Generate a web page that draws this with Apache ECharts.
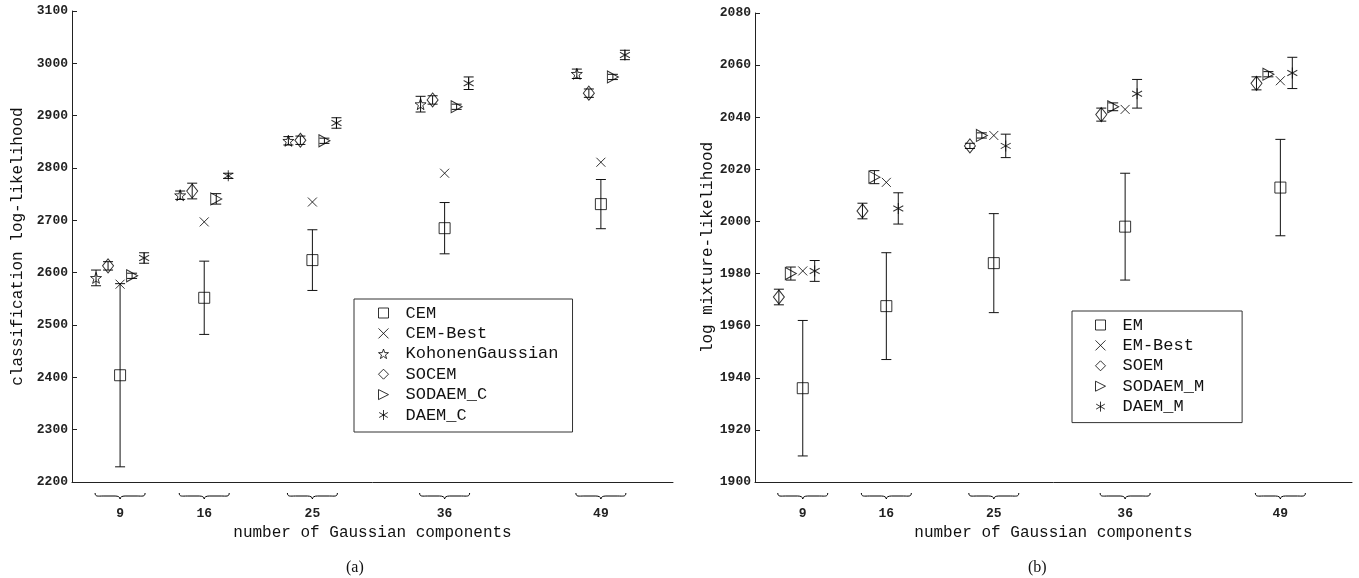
<!DOCTYPE html>
<html><head><meta charset="utf-8">
<script src="https://cdn.jsdelivr.net/npm/echarts@6/dist/echarts.min.js"></script>
<style>html,body{margin:0;padding:0;background:#fff}#c{width:1359px;height:578px}</style>
</head><body><div id="c"></div>
<script>
// shared categories
const groups = [9, 16, 25, 36, 49];
const groupLabels = ['9', '16', '25', '36', '49'];

// (a) classification log-likelihood
const cemMean = [2404, 2552, 2624, 2685, 2731];
const cemErr = [175, 70, 58, 49, 47];
const cemBest = [2578, 2697, 2735, 2790, 2811];
const kohMean = [2590, 2748, 2852, 2922, 2980];
const kohErr = [15, 8, 8, 15, 9];
const socemMean = [2613, 2756, 2853, 2930, 2943];
const socemErr = [8, 15, 8, 8, 8];
const sodaemCMean = [2594, 2741, 2852, 2917, 2974];
const sodaemCErr = [5, 10, 5, 5, 5];
const daemCMean = [2628, 2785, 2886, 2962, 3016];
const daemCErr = [10, 5, 10, 12, 9];

// (b) log mixture-likelihood
const emMean = [1936, 1967.5, 1984, 1998, 2013];
const emErr = [26, 20.5, 19, 20.5, 18.5];
const emBest = [1981, 2015, 2033, 2043, 2054];
const soemMean = [1971, 2004, 2029, 2041, 2053];
const soemErr = [3, 3, 1, 2.5, 2.5];
const sodaemMMean = [1980, 2017, 2033, 2044, 2056.5];
const sodaemMErr = [2.5, 2.5, 1, 1.5, 1];
const daemMMean = [1981, 2005, 2029, 2049, 2057];
const daemMErr = [4, 6, 4.5, 5.5, 6];

const legendA = ['CEM', 'CEM-Best', 'KohonenGaussian', 'SOCEM', 'SODAEM_C', 'DAEM_C'];
const legendB = ['EM', 'EM-Best', 'SOEM', 'SODAEM_M', 'DAEM_M'];

// ---- presentation ----
const MONO = '"Liberation Mono", "DejaVu Sans Mono", monospace';
const SYM = {
  square: 'rect',
  cross: 'path://M0,0L10,10M10,0L0,10',
  star: 'path://M0,-10L2.35,-3.24L9.51,-3.09L3.8,1.24L5.88,8.09L0,4L-5.88,8.09L-3.8,1.24L-9.51,-3.09L-2.35,-3.24Z',
  diamond: 'diamond',
  tri: 'path://M0,0L10,5L0,10Z',
  ast: 'path://M0,-5L0,5M-4.33,-2.5L4.33,2.5M-4.33,2.5L4.33,-2.5'
};
const BRACE = 'M0,0 C0,4 3,3 8,3 L20,3 C23,3 25,4 25,6 C25,4 27,3 30,3 L42,3 C47,3 50,4 50,0';
const Y_MIN = [2200, 1900];

function pts(means, off) { return groups.map((g, i) => [g + off, means[i]]); }
function errPts(means, err, off) { return groups.map((g, i) => [g + off, means[i], err[i]]); }

function scatter(name, idx, means, off, symbol, size) {
  return {
    type: 'scatter', name, xAxisIndex: idx, yAxisIndex: idx,
    data: pts(means, off), symbol, symbolSize: size, z: 3,
    itemStyle: { color: 'rgba(0,0,0,0)', borderColor: '#000', borderWidth: 1 },
    emphasis: { disabled: true }
  };
}
function errItem(params, api) {
  const x = api.value(0), y = api.value(1), e = api.value(2);
  const t = api.coord([x, y + e]), b = api.coord([x, y - e]);
  const w = 5;
  const st = { stroke: '#111', lineWidth: 1 };
  return {
    type: 'group', children: [
      { type: 'line', shape: { x1: t[0], y1: t[1], x2: b[0], y2: b[1] }, style: st },
      { type: 'line', shape: { x1: t[0] - w, y1: t[1], x2: t[0] + w, y2: t[1] }, style: st },
      { type: 'line', shape: { x1: b[0] - w, y1: b[1], x2: b[0] + w, y2: b[1] }, style: st }
    ]
  };
}
function errSeries(name, idx, means, err, off) {
  return {
    type: 'custom', name: 'err ' + name, xAxisIndex: idx, yAxisIndex: idx,
    data: errPts(means, err, off), renderItem: errItem, z: 2, silent: true
  };
}
function braceSeries(idx) {
  return {
    type: 'custom', name: 'brace' + idx, xAxisIndex: idx, yAxisIndex: idx, clip: false, silent: true,
    data: groups.map(g => [g, Y_MIN[idx]]),
    renderItem: (params, api) => {
      const p = api.coord([api.value(0), api.value(1)]);
      return {
        type: 'path',
        shape: { pathData: BRACE, x: p[0] - 25, y: p[1] + 11, width: 50, height: 6 },
        style: { stroke: '#000', fill: 'none', lineWidth: 1 }
      };
    }
  };
}

function xAxis(idx) {
  return {
    type: 'value', gridIndex: idx, min: 5, max: 55,
    name: 'number of Gaussian components', nameLocation: 'middle', nameGap: 43,
    nameTextStyle: { fontFamily: MONO, fontSize: 16, color: '#111' },
    axisLine: { lineStyle: { color: '#222', width: 1 } },
    axisTick: { show: false }, splitLine: { show: false },
    axisLabel: {
      customValues: groups, formatter: v => groupLabels[groups.indexOf(v)],
      margin: 25, fontFamily: MONO, fontSize: 13, fontWeight: 'bold', color: '#222'
    }
  };
}
function yAxis(idx, min, max, interval, name, gap) {
  return {
    type: 'value', gridIndex: idx, min, max, interval,
    name, nameLocation: 'middle', nameGap: gap,
    nameTextStyle: { fontFamily: MONO, fontSize: 16, color: '#111' },
    axisLine: { show: true, lineStyle: { color: '#222', width: 1 } },
    axisTick: { show: true, inside: true, length: 5, lineStyle: { color: '#222' } },
    splitLine: { show: false },
    axisLabel: { margin: 4, fontFamily: MONO, fontSize: 13, fontWeight: 'bold', color: '#222', formatter: v => String(v) }
  };
}
function legend(data, idx, left, top, padding) {
  return {
    data, left, top, orient: 'vertical', padding, itemGap: 2.4,
    itemWidth: 10, itemHeight: 10,
    borderColor: '#333', borderWidth: 1, backgroundColor: '#fff',
    selectedMode: false,
    itemStyle: { color: 'rgba(0,0,0,0)', borderColor: '#000', borderWidth: 1 },
    textStyle: { fontFamily: MONO, fontSize: 17, color: '#111', lineHeight: 18, padding: [0, 0, 0, 12] }
  };
}

const series = [
  // (a)
  errSeries('CEM', 0, cemMean, cemErr, 0),
  errSeries('KohonenGaussian', 0, kohMean, kohErr, -2),
  errSeries('SOCEM', 0, socemMean, socemErr, -1),
  errSeries('SODAEM_C', 0, sodaemCMean, sodaemCErr, 1),
  errSeries('DAEM_C', 0, daemCMean, daemCErr, 2),
  scatter('CEM', 0, cemMean, 0, SYM.square, 11),
  scatter('CEM-Best', 0, cemBest, 0, SYM.cross, 9),
  scatter('KohonenGaussian', 0, kohMean, -2, SYM.star, 11),
  scatter('SOCEM', 0, socemMean, -1, SYM.diamond, [11, 14]),
  scatter('SODAEM_C', 0, sodaemCMean, 1, SYM.tri, [11, 12]),
  scatter('DAEM_C', 0, daemCMean, 2, SYM.ast, [10, 11]),
  braceSeries(0),
  // (b)
  errSeries('EM', 1, emMean, emErr, 0),
  errSeries('SOEM', 1, soemMean, soemErr, -2),
  errSeries('SODAEM_M', 1, sodaemMMean, sodaemMErr, -1),
  errSeries('DAEM_M', 1, daemMMean, daemMErr, 1),
  scatter('EM', 1, emMean, 0, SYM.square, 11),
  scatter('EM-Best', 1, emBest, 0, SYM.cross, 9),
  scatter('SOEM', 1, soemMean, -2, SYM.diamond, [11, 14]),
  scatter('SODAEM_M', 1, sodaemMMean, -1, SYM.tri, [11, 12]),
  scatter('DAEM_M', 1, daemMMean, 1, SYM.ast, [10, 11]),
  braceSeries(1)
];

const chart = echarts.init(document.getElementById('c'), null, { renderer: 'canvas' });
chart.setOption({
  animation: false,
  backgroundColor: '#fff',
  grid: [
    { left: 72, top: 11, width: 601, height: 471 },
    { left: 755, top: 13, width: 597, height: 469 }
  ],
  xAxis: [xAxis(0), xAxis(1)],
  yAxis: [
    yAxis(0, 2200, 3100, 100, 'classification log-likelihood', 46),
    yAxis(1, 1900, 2080, 20, 'log mixture-likelihood', 39)
  ],
  legend: [
    legend(legendA, 0, 354, 299, [5, 14, 8, 24]),
    legend(legendB, 1, 1072, 311, [5, 38, 7, 23])
  ],
  graphic: [
    { type: 'text', left: 346, top: 560, style: { text: '(a)', font: '16px "Liberation Serif", serif', fill: '#111' } },
    { type: 'text', left: 1028, top: 560, style: { text: '(b)', font: '16px "Liberation Serif", serif', fill: '#111' } }
  ],
  series
});
</script></body></html>
